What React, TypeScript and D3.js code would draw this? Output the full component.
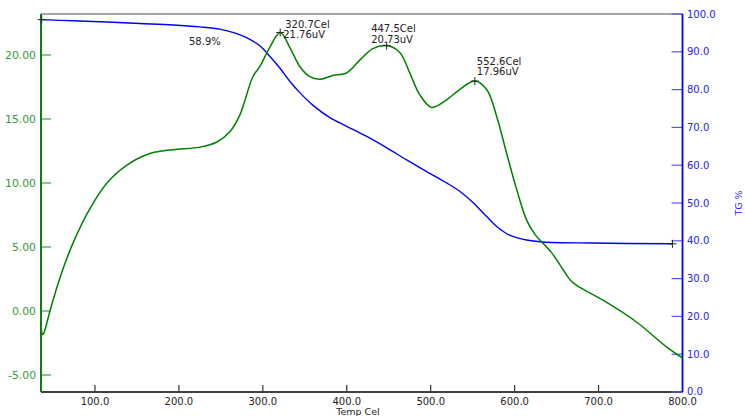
import React from "react";
import * as d3 from "d3";

const dtaT = [35.7, 37.7, 39.3, 46.4, 58.3, 73.8, 94, 114.3, 138.1, 165.5, 192.9, 225, 245.2, 260.7, 272.6, 288.1, 296.4, 308.3, 320.7, 332.1, 344, 356, 367.9, 383.3, 400, 415.5, 431, 447.5, 463.1, 475, 486.9, 501.2, 519, 534.5, 552.6, 566.7, 578.6, 590.5, 602.4, 614.3, 624, 643.5, 659, 666.5, 673.8, 704.8, 745.2, 780.9, 800];
const dtaUV = [-1.3, -1.85, -1.7, 0.0, 2.6, 5.3, 8.0, 10.0, 11.4, 12.3, 12.6, 12.8, 13.2, 14.0, 15.3, 18.3, 19.1, 20.6, 21.76, 20.6, 19.1, 18.3, 18.1, 18.4, 18.6, 19.6, 20.5, 20.73, 20.2, 18.6, 16.9, 15.9, 16.5, 17.3, 17.96, 17.3, 15.2, 12.3, 9.5, 7.1, 6.0, 4.6, 3.1, 2.4, 2.0, 0.86, -0.86, -2.8, -3.67];

const tgT = [36.5, 73.8, 114.3, 153.6, 192.9, 225, 248.8, 269, 284.5, 296.4, 304.8, 320.2, 332.1, 344, 359.5, 379.8, 400, 423.8, 447.6, 471.4, 495.2, 519, 534.5, 550, 566.7, 578.6, 594, 614.3, 633.3, 692.9, 788];
const tgPct = [98.5, 98.2, 97.9, 97.5, 97.1, 96.6, 96.0, 94.8, 93.3, 91.6, 89.7, 85.7, 82.2, 79.2, 75.9, 72.6, 70.3, 67.6, 64.6, 61.4, 58.3, 55.3, 53.1, 50.2, 46.4, 43.8, 41.5, 40.2, 39.7, 39.4, 39.2];

const xTicks = [100, 200, 300, 400, 500, 600, 700, 800];
const leftTicks = [-5, 0, 5, 10, 15, 20];
const rightTicks = [0, 10, 20, 30, 40, 50, 60, 70, 80, 90, 100];

const peakT = [320.7, 447.5, 552.6];
const peakUV = [21.76, 20.73, 17.96];
const peakLabels = [["320.7Cel", "21.76uV"], ["447.5Cel", "20.73uV"], ["552.6Cel", "17.96uV"]];
const tgMarkT = [36.5, 788];
const tgMarkPct = [98.5, 39.2];
const massLossLabel = "58.9%";

export default function App() {
  const W = 745, H = 416;
  const x = d3.scaleLinear().domain([35.7, 800]).range([41, 682.5]);
  const yL = d3.scaleLinear().domain([-6.33, 23.2]).range([392, 14]);
  const yR = d3.scaleLinear().domain([0, 100]).range([392, 14]);

  const dtaLine = d3.line<number>().x((_, i) => x(dtaT[i])).y((d) => yL(d)).curve(d3.curveCatmullRom.alpha(0.5));
  const tgLine = d3.line<number>().x((_, i) => x(tgT[i])).y((d) => yR(d)).curve(d3.curveCatmullRom.alpha(0.5));

  const font = "'DejaVu Sans', Verdana, sans-serif";
  const x0 = 41, x1 = 682.5, yTop = 14, yBot = 392;

  const plus = (cx: number, cy: number, k: string) => (
    <g key={k} stroke="#222" strokeWidth={1}>
      <line x1={cx - 4} x2={cx + 4} y1={cy} y2={cy} />
      <line x1={cx} x2={cx} y1={cy - 4} y2={cy + 4} />
    </g>
  );

  const dx1 = [5, -15.5, 2];
  const dy1 = [-4.5, -13.5, -16.5];
  const dx2 = [3, -15.5, 2];
  const dy2 = [6, -2.5, -6];

  return (
    <svg width={W} height={H} style={{ position: "absolute", left: 0, top: 0, background: "#fff" }}>
      <line x1={x0} x2={x1} y1={yTop} y2={yTop} stroke="#888" strokeWidth={1.5} />
      <line x1={x0} x2={x1} y1={yBot} y2={yBot} stroke="#000" strokeWidth={1.5} />
      {xTicks.map((t) => (
        <g key={"xt" + t}>
          {t < 800 && <line x1={x(t)} x2={x(t)} y1={yBot} y2={yBot - 7} stroke="#333" strokeWidth={1.2} />}
          <text x={x(t)} y={404.5} fontSize={10} fontFamily={font} textAnchor="middle" fill="#222">{t.toFixed(1)}</text>
        </g>
      ))}
      <text x={358} y={415} fontSize={9.5} fontFamily={font} textAnchor="middle" fill="#222">Temp Cel</text>

      {leftTicks.map((t) => (
        <g key={"lt" + t}>
          <line x1={x0} x2={x0 + 10} y1={yL(t)} y2={yL(t)} stroke="#3f9a3f" strokeWidth={1.2} />
          <text x={36} y={yL(t) + 3.9} fontSize={10.8} fontFamily={font} textAnchor="end" fill="#33993a">{t.toFixed(2)}</text>
        </g>
      ))}
      <line x1={x0} x2={x0} y1={yTop} y2={yBot} stroke="#137a13" strokeWidth={2} />

      {rightTicks.map((t) => (
        <g key={"rt" + t}>
          <line x1={x1 - 11} x2={x1} y1={yR(t)} y2={yR(t)} stroke="#5555ff" strokeWidth={1.2} />
          <text x={687} y={yR(t) + (t === 0 ? 2.5 : 3.5)} fontSize={10} fontFamily={font} textAnchor="start" fill="#2222ff">{t.toFixed(1)}</text>
        </g>
      ))}
      <line x1={x1} x2={x1} y1={yTop} y2={yBot} stroke="#0000ff" strokeWidth={1.8} />
      <text transform={`translate(742,203) rotate(-90)`} fontSize={9.5} fontFamily={font} textAnchor="middle" fill="#2222ff">TG %</text>

      <path d={tgLine(tgPct) || ""} fill="none" stroke="#0000ff" strokeWidth={1.4} />
      <path d={dtaLine(dtaUV) || ""} fill="none" stroke="#008000" strokeWidth={1.5} />

      {peakT.map((t, i) => plus(x(t), yL(peakUV[i]), "pk" + i))}
      {tgMarkT.map((t, i) => plus(x(t), yR(tgMarkPct[i]), "tm" + i))}

      {peakT.map((t, i) => (
        <g key={"pl" + i} fontSize={10} fontFamily={font} fill="#222">
          <text x={x(t) + dx1[i]} y={yL(peakUV[i]) + dy1[i]}>{peakLabels[i][0]}</text>
          <text x={x(t) + dx2[i]} y={yL(peakUV[i]) + dy2[i]}>{peakLabels[i][1]}</text>
        </g>
      ))}
      <text x={189} y={44.5} fontSize={10} fontFamily={font} fill="#222">{massLossLabel}</text>
    </svg>
  );
}
